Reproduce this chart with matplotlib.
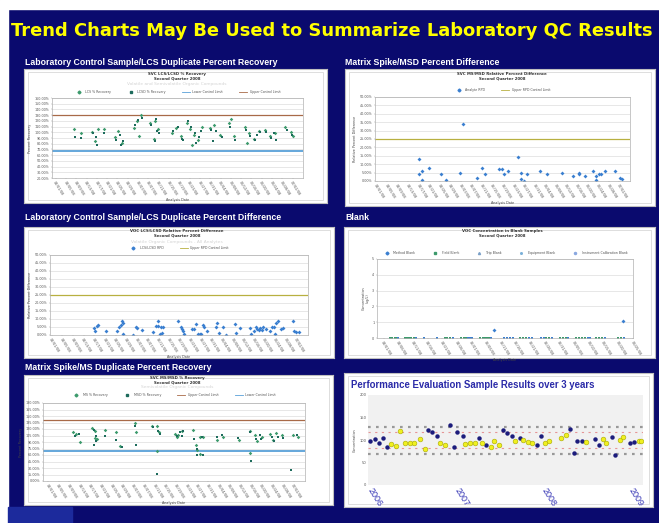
import numpy as np
import matplotlib
matplotlib.use('Agg')
import matplotlib.pyplot as plt
from matplotlib.patches import Rectangle
from matplotlib.lines import Line2D

W, H = 659, 523
NAVY = '#0a0a6e'

# tick labels (sample dates)
dates24 = ['04/01/08', '04/05/08', '04/09/08', '04/13/08', '04/17/08', '04/21/08',
           '04/25/08', '04/29/08', '05/03/08', '05/07/08', '05/11/08', '05/15/08',
           '05/19/08', '05/23/08', '05/27/08', '05/31/08', '06/04/08', '06/08/08',
           '06/12/08', '06/16/08', '06/20/08', '06/24/08', '06/28/08', '07/02/08']
dates18 = ['04/01/08', '04/06/08', '04/11/08', '04/16/08', '04/21/08', '04/26/08',
           '05/01/08', '05/06/08', '05/11/08', '05/16/08', '05/21/08', '05/26/08',
           '05/31/08', '06/05/08', '06/10/08', '06/15/08', '06/20/08', '06/25/08']

# panel 1: LCS / LCSD percent recovery
lcs_x = [1.8, 2.5, 3.5, 3.8, 4.1, 4.7, 5.8, 6.1, 6.4, 7.6, 7.9, 8.3, 8.1, 9.2, 9.6, 9.9, 9.5,
         11.3, 11.7, 12.2, 12.7, 13.0, 13.4, 13.8, 14.2, 13.2, 15.0, 15.4, 15.9, 16.8, 17.3,
         17.0, 18.4, 18.8, 19.2, 19.7, 18.6, 20.3, 20.8, 21.3, 22.3, 22.8, 23.0]
lcs_rec = [105, 98, 100, 84, 105, 105, 92, 102, 81, 107, 119, 131, 94, 116, 120, 105, 89,
           98, 107, 93, 116, 105, 96, 87, 110, 77, 107, 112, 96, 116, 93,
           123, 110, 98, 89, 102, 81, 104, 94, 98, 110, 100, 93]
lcsd_x = [1.9, 2.5, 3.6, 3.9, 4.0, 4.7, 5.9, 6.2, 6.3, 6.5, 7.7, 8.0, 8.4, 9.3, 9.7, 9.8, 10.0,
          9.6, 11.4, 11.9, 12.3, 12.4, 12.8, 13.1, 13.5, 13.9, 14.1, 13.6, 15.1, 15.6, 16.1,
          15.3, 16.9, 17.4, 18.5, 18.9, 19.3, 19.8, 19.5, 20.4, 20.9, 21.4, 21.2, 22.4, 22.9]
lcsd_rec = [92, 90, 98, 92, 78, 98, 87, 96, 77, 84, 113, 122, 125, 113, 123, 102, 98,
            85, 102, 110, 89, 87, 119, 110, 99, 92, 102, 82, 104, 102, 92,
            84, 110, 87, 104, 93, 86, 100, 95, 100, 90, 87, 98, 104, 96]
lcs_limits = (68, 130)

# panel 2: MS / MSD relative percent difference
msd_x = [4.0, 4.0, 4.3, 4.3, 5.0, 6.1, 6.6, 7.9, 8.2, 9.5, 10.0, 10.3, 11.6, 11.9, 12.1,
         12.4, 13.4, 13.7, 13.7, 14.0, 14.2, 15.5, 16.1, 17.6, 18.6, 19.2, 19.2, 19.7,
         20.5, 20.8, 20.8, 21.1, 21.3, 21.6, 22.6, 23.1, 23.2]
msd_rpd = [13, 4, 6, 0.8, 8, 4, 0.4, 5, 34, 2, 8, 4, 7, 7, 4,
           6, 14, 5, 1, 0.2, 4, 6, 4, 5, 3, 4, 5, 3,
           6, 3, 0.4, 4, 4, 6, 6, 2, 1.4]
msd_limit = 25

# panel 3: LCS / LCSD relative percent difference
lrpd_x = [3.97, 4.06, 4.22, 4.38, 5.09, 6.09, 6.34, 6.5, 6.56, 6.66, 6.66, 7.66, 7.91, 7.97,
          8.44, 9.47, 9.78, 9.94, 10.0, 10.16, 10.25, 10.31, 10.41, 11.88, 12.13, 12.22,
          12.34, 12.41, 13.19, 13.34, 13.59, 13.69, 13.91, 14.06, 14.22, 14.28, 14.59,
          15.41, 15.56, 15.72, 16.09, 16.34, 17.19, 17.28, 17.66, 18.59, 18.75, 19.0,
          19.22, 19.28, 19.47, 19.59, 19.72, 19.84, 20.16, 20.47, 20.66, 20.84, 20.94,
          21.09, 21.25, 21.53, 21.72, 22.66, 22.72, 22.91, 23.22]
lrpd = [4.2, 2.7, 5.8, 6.3, 2.7, 2.7, 4.8, 6.3, 9.0, 7.3, 0.6, 0.1, 4.8, 4.2,
        3.1, 1.7, 5.8, 5.8, 9.0, 0.6, 4.8, 1.0, 4.8, 9.0, 4.8, 3.8,
        2.7, 0.6, 3.8, 3.8, 6.9, 0.6, 0.6, 0.6, 6.3, 5.2, 2.7,
        4.8, 7.7, 1.0, 4.8, 0.1, 6.9, 1.0, 4.2, 4.2, 0.6, 2.7,
        4.8, 3.8, 3.1, 4.4, 3.1, 4.8, 3.8, 2.7, 5.2, 5.2, 0.6,
        7.3, 8.5, 3.8, 4.4, 9.0, 2.7, 2.1, 2.1]
lrpd_limit = 25

# panel 4: blanks
blank_green_x = [0.45, 0.6, 0.75, 0.9, 1.45, 1.6, 1.75, 1.9, 2.05, 4.2, 4.35, 4.5, 5.3, 5.45,
                 5.6, 6.6, 6.75, 6.9, 7.05, 7.2, 9.3, 9.5, 9.7, 11.1, 11.3, 12.0, 12.2, 12.4,
                 13.1, 13.3, 13.5, 13.7, 14.5, 14.7, 14.9, 16.0, 16.2]
blank_blue_x = [1.0, 2.2, 2.75, 3.65, 4.7, 5.75, 5.9, 6.05, 7.3, 8.2, 8.4, 8.6, 8.8, 9.9, 10.1,
                10.7, 10.9, 11.5, 12.6, 13.9, 14.1, 15.1, 16.4]
blank_blue_y = [0.03] * len(blank_blue_x)
blank_green_y = [0.03] * len(blank_green_x)
blank_hit_x = [7.55, 16.3]
blank_hit_y = [0.48, 1.1]

# panel 5: MS / MSD percent recovery
ms_x = [2.34, 2.66, 2.97, 4.16, 4.38, 4.38, 4.59, 5.31, 6.34, 6.72, 8.13, 8.22, 9.69,
        10.22, 10.41, 10.25, 11.88, 12.19, 12.5, 12.03, 13.59, 13.84, 13.97, 14.22, 14.22,
        14.53, 15.84, 16.34, 17.91, 18.91, 18.91, 19.38, 19.53, 20.0, 20.78, 21.03, 21.34,
        21.88, 22.91, 23.44]
ms_rec = [114, 109, 89, 122, 116, 99, 96, 118, 114, 81, 133, 113, 126,
          127, 112, 70, 109, 107, 115, 101, 118, 82, 71, 62, 102,
          101, 95, 101, 95, 116, 64, 106, 92, 101, 109, 95, 110,
          107, 106, 101]
msd2_x = [2.5, 2.91, 4.28, 4.47, 4.28, 4.53, 5.31, 6.34, 6.88, 8.13, 8.22, 9.84, 10.31,
          10.53, 10.25, 12.03, 12.34, 12.66, 12.5, 13.66, 13.91, 13.91, 14.47, 14.38, 15.78,
          16.25, 17.81, 18.91, 18.97, 19.47, 19.84, 19.91, 20.94, 21.16, 21.56, 21.97,
          22.72, 23.28]
msd2_rec = [104, 109, 118, 104, 83, 93, 104, 95, 78, 127, 83, 124, 116,
            109, 17, 104, 112, 116, 104, 98, 75, 61, 61, 101, 101,
            106, 99, 112, 47, 97, 107, 96, 101, 92, 102, 99,
            25, 107]
ms_limits = (70, 140)

# panel 6: performance evaluation samples
pe_years = ['2006', '2007', '2008', '2009']
pe_a_t = [2005.96, 2006.02, 2006.07, 2006.11, 2006.16, 2006.63, 2006.68, 2006.73, 2006.88,
          2006.93, 2006.96, 2007.03, 2007.21, 2007.30, 2007.49, 2007.54, 2007.59, 2007.69,
          2007.88, 2007.93, 2008.26, 2008.31, 2008.34, 2008.40, 2008.55, 2008.60, 2008.74,
          2008.78, 2008.95, 2009.00]
pe_a = [98.5, 101.5, 92.6, 105.2, 85.2, 122.2, 118.5, 108.9, 133.3,
        83.7, 118.5, 108.9, 103.7, 88.9, 122.2, 114.8, 108.9, 105.2,
        88.9, 108.9, 123.7, 70.4, 98.5, 98.5, 101.5, 88.9, 107.4,
        66.7, 94.1, 96.3]
pe_b_t = [2006.21, 2006.26, 2006.31, 2006.36, 2006.42, 2006.47, 2006.54, 2006.59, 2006.77,
          2006.82, 2007.05, 2007.11, 2007.17, 2007.25, 2007.35, 2007.39, 2007.45, 2007.63,
          2007.72, 2007.78, 2007.83, 2007.97, 2008.02, 2008.16, 2008.21, 2008.45, 2008.64,
          2008.68, 2008.83, 2008.87, 2009.05, 2009.08]
pe_b = [91.1, 87.4, 120, 94.1, 94.1, 92.6, 101.5, 79.3, 94.1,
        88.9, 91.1, 92.6, 94.1, 92.6, 83.7, 98.5, 88.9, 98.5,
        100, 96.3, 92.6, 94.1, 98.5, 103.7, 110.4, 96.3, 101.5,
        94.1, 100, 107.4, 98.5, 98.5]
pe_control = (70, 130)
pe_warning = (82, 118)


def frac(x0, y0, x1, y1):
    return [x0 / W, 1 - y1 / H, (x1 - x0) / W, (y1 - y0) / H]


def fig_text(x, y, s, **kw):
    fig.text(x / W, 1 - y / H, s, **kw)


def panel(x0, y0, x1, y1):
    ax = fig.add_axes(frac(x0, y0, x1, y1))
    ax.set_facecolor('white')
    ax.set_xticks([])
    ax.set_yticks([])
    for s in ax.spines.values():
        s.set_color('#c0c0c0')
        s.set_linewidth(0.8)
    ax.add_patch(Rectangle((0.012, 0.025), 0.976, 0.95, transform=ax.transAxes,
                           fill=False, ec='#d8d8d8', lw=0.6))
    return ax


def chart(rect, ylim, ystep, yfmt, xlabels, xlim, ylabel, xlabel='Analysis Date'):
    ax = fig.add_axes(frac(*rect))
    ax.set_xlim(*xlim)
    ax.set_ylim(*ylim)
    yt = np.arange(ylim[0], ylim[1] + ystep / 2, ystep)
    ax.set_yticks(yt)
    ax.set_yticklabels([yfmt.format(v) for v in yt], fontsize=2.4, color='#555555')
    ax.set_xticks(range(len(xlabels)))
    ax.set_xticklabels(xlabels, rotation=-58, ha='left', rotation_mode='anchor',
                       fontsize=2.6, color='#555555')
    ax.tick_params(length=1, width=0.3, pad=1, colors='#999999', labelcolor='#555555')
    ax.grid(axis='y', color='#dddddd', lw=0.5)
    ax.set_axisbelow(True)
    for s in ax.spines.values():
        s.set_color('#b0b0b0')
        s.set_linewidth(0.5)
    ax.set_ylabel(ylabel, fontsize=2.4, labelpad=1.5, color='#444444')
    ax.set_xlabel(xlabel, fontsize=2.4, labelpad=1, color='#444444')
    return ax


def mini_legend(ax, handles, ncol, above):
    ax.legend(handles=handles, loc='center', bbox_to_anchor=(0.5, 1 + above), ncol=ncol,
              fontsize=2.3, frameon=False, handlelength=2.5, columnspacing=5,
              labelcolor='#555555')


fig = plt.figure(figsize=(W / 100, H / 100), dpi=100, facecolor=NAVY)
fig.add_artist(Rectangle((0, 1 - 9 / H), 1, 9 / H, transform=fig.transFigure,
                         color='white', zorder=-5))
fig.add_artist(Rectangle((0, 0), 8 / W, 1, transform=fig.transFigure,
                         color='white', zorder=-5))
fig.add_artist(Rectangle((8 / W, 0), 64 / W, 16 / H, transform=fig.transFigure,
                         color='#1c2a9c', zorder=-5))

fig_text(11, 31, 'Trend Charts May Be Used to Summarize Laboratory QC Results',
         fontsize=12.85, weight='bold', color='#ffff00', va='center', ha='left',
         family='DejaVu Sans')

label_kw = dict(fontsize=6.3, weight='bold', color='white', va='center', ha='left',
                family='Liberation Sans')
fig_text(25, 62, 'Laboratory Control Sample/LCS Duplicate Percent Recovery', **label_kw)
fig_text(345, 62, 'Matrix Spike/MSD Percent Difference', **label_kw)
fig_text(25, 217, 'Laboratory Control Sample/LCS Duplicate Percent Difference', **label_kw)
fig_text(345, 217, 'Blank', **label_kw)
fig_text(25, 367, 'Matrix Spike/MS Duplicate Percent Recovery', **label_kw)

title_kw = dict(fontsize=2.8, weight='bold', color='#333333', ha='center', va='center',
                linespacing=1.1)
sub_kw = dict(fontsize=3.2, color='#d4d4d4', ha='center', va='center')

green = '#3c9a6c'
teal = '#1d6b5c'
blue_pt = '#3a7fd0'
olive = '#b8b040'
brown = '#a86a48'
lim_blue = '#58a0d8'

# ---- panel 1
panel(24, 69, 327, 203)
fig_text(177, 76, 'SVC LCS/LCSD % Recovery\nSecond Quarter 2008', **title_kw)
fig_text(177, 84, 'Volatile and Semivolatile Organic Compounds', **sub_kw)
ax = chart((52, 98, 303, 178), (20, 160), 10, '{:.0f}.00%', dates24, (-0.35, 24.0),
           'Percent Recovery')
ax.axhline(lcs_limits[1], color=brown, lw=0.9)
ax.axhline(lcs_limits[0], color=lim_blue, lw=1.3)
ax.plot(lcs_x, lcs_rec, 'D', color=green, ms=1.8, mew=0)
ax.plot(lcsd_x, lcsd_rec, 's', color=teal, ms=1.8, mew=0)
mini_legend(ax, [Line2D([], [], ls='', marker='D', color=green, ms=1.5, label='LCS % Recovery'),
                 Line2D([], [], ls='', marker='s', color=teal, ms=1.5, label='LCSD % Recovery'),
                 Line2D([], [], color=lim_blue, lw=0.6, label='Lower Control Limit'),
                 Line2D([], [], color=brown, lw=0.6, label='Upper Control Limit')], 4, 0.075)

# ---- panel 2
panel(345, 69, 655, 206)
fig_text(502, 76, 'SVC MS/MSD Relative Percent Difference\nSecond Quarter 2008', **title_kw)
ax = chart((375, 97, 630, 181), (0, 50), 5, '{:.2f}%', dates24, (-0.15, 24.0),
           'Relative Percent Difference')
ax.axhline(msd_limit, color=olive, lw=0.9)
ax.plot(msd_x, msd_rpd, 'D', color=blue_pt, ms=2.0, mew=0)
mini_legend(ax, [Line2D([], [], ls='', marker='D', color=blue_pt, ms=1.5, label='Analyte RPD'),
                 Line2D([], [], color=olive, lw=0.6, label='Upper RPD Control Limit')], 2, 0.08)

# ---- panel 3
panel(24, 227, 334, 358)
fig_text(177, 233, 'VOC LCS/LCSD Relative Percent Difference\nSecond Quarter 2008', **title_kw)
fig_text(177, 242, 'Volatile Organic Compounds - All Analytes', **sub_kw)
ax = chart((50, 255, 308, 335), (0, 50), 5, '{:.2f}%', dates24, (-0.16, 24.06),
           'Relative Percent Difference')
ax.axhline(lrpd_limit, color=olive, lw=0.9)
ax.plot(lrpd_x, lrpd, 'D', color=blue_pt, ms=2.0, mew=0)
mini_legend(ax, [Line2D([], [], ls='', marker='D', color=blue_pt, ms=1.5, label='LCS/LCSD RPD'),
                 Line2D([], [], color=olive, lw=0.6, label='Upper RPD Control Limit')], 2, 0.09)

# ---- panel 4
panel(344, 227, 655, 358)
fig_text(502, 233, 'VOC Concentration in Blank Samples\nSecond Quarter 2008', **title_kw)
ax = chart((377, 259, 633, 338), (0, 5), 1, '{:.0f}', dates18, (-0.45, 17.0),
           'Concentration\n(ug/L)')
ax.plot(blank_green_x, blank_green_y, 's', color=green, ms=1.6, mew=0)
ax.plot(blank_blue_x, blank_blue_y, 's', color=blue_pt, ms=1.6, mew=0)
ax.plot(blank_hit_x, blank_hit_y, 'D', color=blue_pt, ms=2.0, mew=0)
mini_legend(ax, [Line2D([], [], ls='', marker='D', color=blue_pt, ms=1.5, label='Method Blank'),
                 Line2D([], [], ls='', marker='s', color=green, ms=1.5, label='Field Blank'),
                 Line2D([], [], ls='', marker='^', color='#7aa0c8', ms=1.5, label='Trip Blank'),
                 Line2D([], [], ls='', marker='x', color='#7ab0d8', ms=1.5, label='Equipment Blank'),
                 Line2D([], [], ls='', marker='o', color='#8aa8e0', ms=1.5,
                        label='Instrument Calibration Blank')], 5, 0.075)

# ---- panel 5
panel(24, 375, 333, 505)
fig_text(177, 380, 'SVC MS/MSD % Recovery\nSecond Quarter 2008', **title_kw)
fig_text(177, 387, 'Semivolatile Organic Compounds', **sub_kw)
ax = chart((43, 403, 305, 481), (0, 180), 15, '{:.2f}%', dates24, (-0.47, 24.06),
           'Percent Recovery')
ax.axhline(ms_limits[1], color=brown, lw=0.9)
ax.axhline(ms_limits[0], color=lim_blue, lw=1.3)
ax.plot(ms_x, ms_rec, 'D', color=green, ms=1.8, mew=0)
ax.plot(msd2_x, msd2_rec, 's', color=teal, ms=1.8, mew=0)
mini_legend(ax, [Line2D([], [], ls='', marker='D', color=green, ms=1.5, label='MS % Recovery'),
                 Line2D([], [], ls='', marker='s', color=teal, ms=1.5, label='MSD % Recovery'),
                 Line2D([], [], color=brown, lw=0.6, label='Upper Control Limit'),
                 Line2D([], [], color=lim_blue, lw=0.6, label='Lower Control Limit')], 4, 0.1)

# ---- panel 6
panel(344, 373, 653, 507)
fig_text(351, 385, 'Performance Evaluation Sample Results over 3 years', fontsize=6.9,
         weight='bold', color='#2a2aa8', ha='left', va='center', family='Liberation Sans')
ax = fig.add_axes(frac(368, 395, 643, 485))
ax.set_facecolor('#f1f1f1')
ax.set_xlim(2005.94, 2009.10)
ax.set_ylim(0, 200)
ax.set_yticks([0, 50, 100, 150, 200])
ax.set_yticklabels(['0', '50', '100', '150', '200'], fontsize=2.6, color='#555555')
ax.set_xticks([2006, 2007, 2008, 2009])
ax.set_xticklabels(pe_years, rotation=-58, ha='left', rotation_mode='anchor', fontsize=6.5,
                   color='#3535b5', family='Liberation Sans')
ax.tick_params(axis='y', length=0, pad=1)
ax.tick_params(axis='x', length=0, pad=1)
for s in ax.spines.values():
    s.set_visible(False)
ax.set_ylabel('Concentration', fontsize=2.4, labelpad=2, color='#444444')
for v in pe_control:
    ax.axhline(v, color='#999999', lw=1.6, ls=(0, (1.2, 2.4)))
for v in pe_warning:
    ax.axhline(v, color='#e07070', lw=0.8, ls=(0, (2, 4)), alpha=0.7)
ax.plot(pe_a_t, pe_a, 'o', color='#1c1c7c', ms=3.2, mew=0)
ax.plot(pe_b_t, pe_b, 'o', color='#f0f020', mec='#a8a800', ms=3.4, mew=0.4)

fig.savefig('out.png', dpi=100, facecolor=NAVY)
